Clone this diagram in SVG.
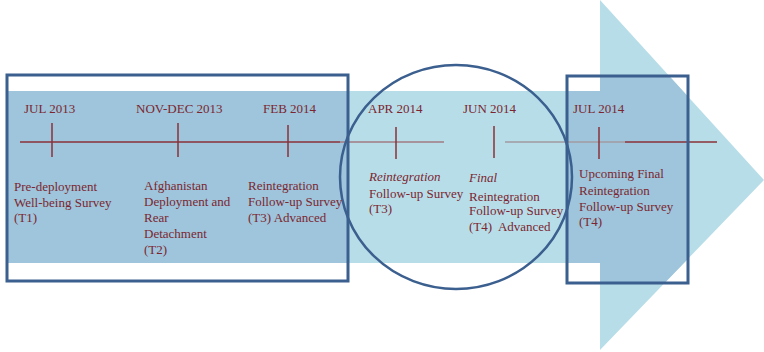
<svg xmlns="http://www.w3.org/2000/svg" width="764" height="352" viewBox="0 0 764 352">
<style>
text{font-family:'Liberation Serif','Times New Roman',Times,serif;font-size:13px;fill:#7c2530}
.i{font-style:italic}
.box{fill:none;stroke:#3b5f8e;stroke-width:3}
.tick{stroke:#8a3038;stroke-width:1.5}
</style>
<defs>
<clipPath id="arrowClip"><polygon points="8,91 600,91 600,0 764,180 600,350 600,263 8,263"/></clipPath>
</defs>
<rect width="764" height="352" fill="#ffffff"/>
<g id="arrow">
<polygon points="8,91 600,91 600,0 764,180 600,350 600,263 8,263" fill="#b7dee8"/>
</g>
<g clip-path="url(#arrowClip)" fill="#9ec5db">
<rect x="7" y="75" width="341" height="206"/>
<rect x="567" y="76" width="121" height="207"/>
</g>
<g id="connectors">
<line x1="20" y1="142" x2="340" y2="142" stroke="#8a3038" stroke-width="1.5"/>
<line x1="340" y1="142" x2="444" y2="142" stroke="#a07a82" stroke-width="1.5"/>
<line x1="505" y1="142" x2="625" y2="142" stroke="#a09aa2" stroke-width="1.5"/>
<line x1="625" y1="142" x2="717" y2="142" stroke="#8a3038" stroke-width="1.5"/>
<line class="tick" x1="52" y1="123" x2="52" y2="157"/>
<line class="tick" x1="178" y1="123" x2="178" y2="157"/>
<line class="tick" x1="288" y1="125" x2="288" y2="157"/>
<line class="tick" x1="396" y1="127" x2="396" y2="159"/>
<line class="tick" x1="494" y1="126" x2="494" y2="158"/>
<line class="tick" x1="599" y1="127" x2="599" y2="159"/>
</g>
<g id="box-left"><rect class="box" x="7" y="75" width="341" height="206"/></g>
<g id="box-right"><rect class="box" x="567" y="76" width="121" height="207"/></g>
<g id="circle"><ellipse cx="456" cy="177" rx="116" ry="112" fill="none" stroke="#3b5f8e" stroke-width="2.5"/></g>
<g id="t1">
<text x="24" y="113">JUL 2013</text>
<text x="14" y="191">Pre-deployment</text>
<text x="14" y="207">Well-being Survey</text>
<text x="14" y="222">(T1)</text>
</g>
<g id="t2">
<text x="136" y="113">NOV-DEC 2013</text>
<text x="144" y="190">Afghanistan</text>
<text x="144" y="206">Deployment and</text>
<text x="144" y="222">Rear</text>
<text x="144" y="238">Detachment</text>
<text x="144" y="254">(T2)</text>
</g>
<g id="t3a">
<text x="263" y="113">FEB 2014</text>
<text x="248" y="190">Reintegration</text>
<text x="248" y="206">Follow-up Survey</text>
<text x="248" y="222">(T3) Advanced</text>
</g>
<g id="t3">
<text x="368" y="113">APR 2014</text>
<text class="i" x="369" y="181">Reintegration</text>
<text x="369" y="198">Follow-up Survey</text>
<text x="369" y="213">(T3)</text>
</g>
<g id="t4a">
<text x="463" y="113">JUN 2014</text>
<text class="i" x="469" y="182">Final</text>
<text x="469" y="201">Reintegration</text>
<text x="469" y="215">Follow-up Survey</text>
<text x="469" y="231" xml:space="preserve">(T4)  Advanced</text>
</g>
<g id="t4">
<text x="573" y="113">JUL 2014</text>
<text x="579" y="178">Upcoming Final</text>
<text x="579" y="195">Reintegration</text>
<text x="579" y="211">Follow-up Survey</text>
<text x="579" y="226">(T4)</text>
</g>
</svg>
